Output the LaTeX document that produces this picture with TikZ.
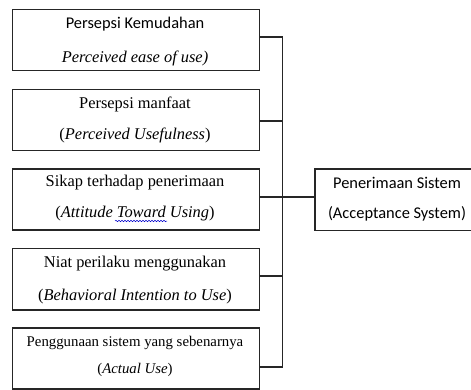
\documentclass[tikz,border=0pt]{standalone}
\usepackage{fontspec}
\setmainfont{Liberation Serif}
\newfontfamily\calib{Carlito}
\usetikzlibrary{decorations.pathmorphing}
\begin{document}
\begin{tikzpicture}[x=1pt,y=-1pt,
  box/.style={draw=black!85, line width=1.2pt, inner sep=0pt, outer sep=0pt},
  conn/.style={draw=black!85, line width=1.1pt},
  txt/.style={anchor=base, inner sep=0pt, font=\fontsize{16.4}{18}\selectfont},
  txtsmall/.style={anchor=base, inner sep=0pt, font=\fontsize{14.8}{17}\selectfont},
  spell/.style={draw=blue!80!black, line width=0.5pt, decorate,
    decoration={snake, amplitude=0.7pt, segment length=3pt}}]
\useasboundingbox (0,0) rectangle (471,390);
% boxes
\node[box, minimum width=247pt, minimum height=61.2pt] (b1) at (135.7,40.1) {};
\node[box, minimum width=247pt, minimum height=61.4pt] (b2) at (135.7,120) {};
\node[box, minimum width=247pt, minimum height=61pt] (b3) at (135.7,199.5) {};
\node[box, minimum width=247pt, minimum height=61.7pt] (b4) at (135.7,279.15) {};
\node[box, minimum width=247pt, minimum height=61pt] (b5) at (135.7,358.5) {};
\node[box, minimum width=166pt, minimum height=61.7pt] (r) at (398,199.85) {};
% texts
\node[txt, font=\fontsize{16.4}{18}\calib] (t1a) at (135,29) {Persepsi Kemudahan};
\node[txt] (t1b) at (135,63) {\textit{Perceived ease of use)}};
\node[txt] (t2a) at (135,108.3) {Persepsi manfaat};
\node[txt] (t2b) at (135,140) {(\textit{Perceived Usefulness})};
\node[txt] (t3a) at (135,186.5) {Sikap terhadap penerimaan};
\node[txt] (t3b) at (135,218) {(\textit{Attitude Toward Using})};
\node[txt] (t4a) at (135,267.3) {Niat perilaku menggunakan};
\node[txt] (t4b) at (135,300) {(\textit{Behavioral Intention to Use})};
\node[txtsmall] (t5a) at (135,346.7) {Penggunaan sistem yang sebenarnya};
\node[txtsmall] (t5b) at (135,373) {(\textit{Actual Use})};
\node[txt, font=\fontsize{16.4}{18}\calib] (ra) at (397,188.3) {Penerimaan Sistem};
\node[txt, font=\fontsize{16.4}{18}\calib] (rb) at (397,218.5) {(Acceptance System)};
% spell-check underline under "Toward"
\draw[spell] (115,221) -- (167,221);
% junctions on the bus
\coordinate (j1) at (282.7,37);
\coordinate (j2) at (282.7,121);
\coordinate (j3) at (282.7,197);
\coordinate (j4) at (282.7,276);
\coordinate (j5) at (282.7,367);
% connectors
\draw[conn] (b1.east |- j1) -- (j1) -- (j5) -- (b5.east |- j5);
\draw[conn] (b2.east |- j2) -- (j2);
\draw[conn] (b3.east |- j3) -- (r.west |- j3);
\draw[conn] (b4.east |- j4) -- (j4);
\end{tikzpicture}
\end{document}
